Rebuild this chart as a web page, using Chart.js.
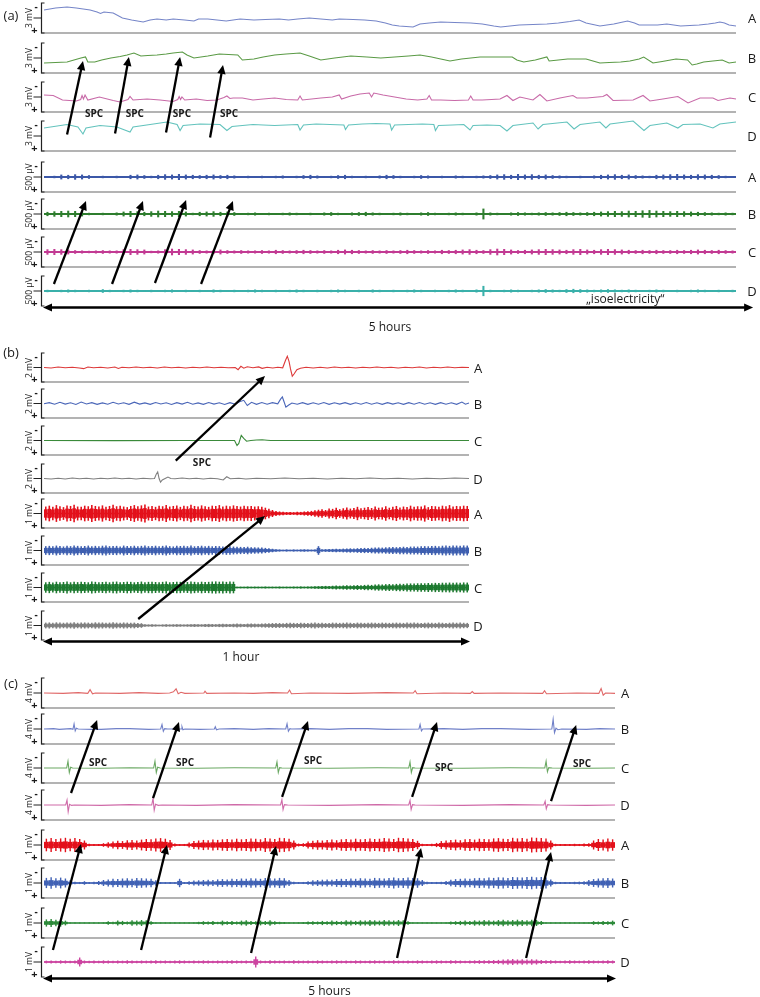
<!DOCTYPE html>
<html>
<head>
<meta charset="utf-8">
<script src="https://cdn.jsdelivr.net/npm/chart.js@4.4.1/dist/chart.umd.min.js"></script>
<style>
  html, body { margin: 0; padding: 0; background: #fff; }
  body { position: relative; width: 760px; height: 997px; overflow: hidden; font-family: "Open Sans", "Liberation Sans", sans-serif; color: #1a1a1a; }
  canvas.row { position: absolute; left: 0; }
  #overlay { position: absolute; left: 0; top: 0; pointer-events: none; z-index: 5; }
  .t { position: absolute; white-space: nowrap; line-height: 1; transform: translate(-50%, -50%); z-index: 6; }
</style>
</head>
<body>
<canvas id="overlay" width="760" height="997"></canvas>
<script>
// ---------- (a) slow traces, [minutes, mV] ----------
const aSlowA = [[0,-0.8],[5,-1.0],[10,-1.1],[14,-1.0],[17,-0.9],[20,-0.8],[23,-0.6],[24.5,-0.45],[26,-0.6],[30,-0.5],[34,0.0],[38,0.2],[43,0.4],[46,0.2],[49,0.1],[53,0.2],[56,0.1],[61,0.2],[65,0.3],[67,0.1],[71,0.1],[75,0.2],[79,0.3],[82,0.2],[85,0.1],[91,0.2],[96,0.15],[102,0.1],[106,0.2],[110,0.1],[115,0.0],[120,0.1],[125,0.2],[128,0.1],[134,0.15],[139,0.2],[144,0.3],[148,0.5],[151,0.7],[154,0.8],[157,0.85],[160,0.9],[163,0.6],[167,0.5],[172,0.4],[178,0.45],[185,0.5],[190,0.6],[195,0.8],[198,0.9],[202,0.8],[206,0.7],[212,0.65],[218,0.6],[223,0.5],[228,0.35],[232,0.2],[235,0.5],[238,0.65],[241,0.8],[244,0.7],[247,0.6],[250,0.45],[253,0.3],[256,0.5],[258,0.7],[262,0.7],[266,0.7],[270,0.6],[273,0.7],[276,0.8],[280,0.75],[284,0.7],[288,0.6],[291,0.5],[293,0.4],[295,0.5],[297,0.7],[300,0.8]];
const aSlowB = [[0,0.5],[5,0.45],[10,0.4],[13,0.2],[16,0.0],[18,-0.1],[19,0.4],[22,0.4],[25,0.2],[29,0.0],[33,-0.15],[36,-0.3],[39,-0.5],[42,-0.2],[45,-0.25],[49,-0.3],[53,-0.4],[56,-0.5],[60,-0.6],[62,-0.3],[65,0.0],[68,-0.1],[71,-0.2],[76,-0.4],[80,-0.35],[84,-0.3],[86,0.2],[91,0.1],[95,-0.1],[100,-0.3],[105,-0.4],[111,-0.5],[115,-0.2],[120,0.2],[126,0.0],[133,-0.2],[140,-0.1],[146,0.0],[152,-0.1],[158,-0.2],[163,-0.3],[168,-0.1],[172,0.1],[176,0.3],[181,0.1],[189,-0.1],[198,-0.1],[203,-0.1],[205,0.2],[208,0.4],[213,0.2],[218,-0.1],[219,0.3],[223,0.2],[227,0.1],[235,0.1],[238,0.3],[241,0.5],[245,0.45],[250,0.4],[254,0.3],[258,0.1],[260,-0.1],[264,0.5],[268,0.35],[274,0.1],[279,0.2],[281,0.7],[283,0.6],[286,0.4],[290,0.3],[294,0.2],[297,0.5],[300,0.4]];
const aSlowC = [[0,-0.2],[4,-0.15],[8,0.3],[14,0.4],[15.9,0.25],[16.5,-0.15],[17.1,0.2],[17.8,-0.2],[19,0.3],[24,0.0],[30,0.35],[33,0.5],[36.4,0.25],[37.3,-0.05],[38.6,0.3],[44.7,0.2],[50.3,0.3],[56,0.45],[58,0.25],[58.6,-0.05],[59.2,0.25],[59.8,0.0],[61,0.3],[66,0.2],[70.7,0.35],[75,0.3],[78,0.05],[79.3,-0.1],[80.6,0.15],[82,0.1],[86,0.1],[90.6,0.3],[95,0.2],[100,0.1],[105,0.25],[110,0.3],[111,-0.1],[112,0.3],[116,0.2],[120,0.1],[125,0.0],[128,-0.2],[129,0.2],[133,-0.1],[137,-0.3],[141,-0.4],[142,0.0],[143,-0.4],[147,-0.2],[152,0.0],[157,0.2],[162,0.3],[166,0.2],[167,-0.15],[168,0.3],[172,0.3],[178,0.35],[184,0.3],[185,-0.1],[186,0.3],[190,0.3],[194,0.25],[197.7,0.2],[200.7,-0.15],[203.3,0.35],[206.3,0.0],[212,0.3],[215,-0.25],[218,0.4],[223.7,0.1],[229.3,-0.15],[231,0.1],[235.4,0.1],[242.3,-0.05],[244,-0.25],[246.7,0.35],[255.4,0.3],[259.7,-0.15],[262.7,0.4],[268.3,0.2],[274.8,-0.05],[279.2,0.6],[284.4,0.1],[290,0.1],[292.2,0.35],[297.4,0.1],[300,0.2]];
const aSlowD = [[0,-0.8],[10,-1.15],[14.7,-0.9],[16.9,-0.2],[18.2,-0.8],[24.3,-1.05],[31.6,-0.9],[37.3,-0.4],[38.6,-0.9],[46,-1.15],[53.3,-1.4],[57.7,-1.15],[59,-0.55],[60.3,-1.05],[67.6,-1.2],[76.3,-1.15],[79.3,-0.55],[81.5,-0.95],[90.6,-1.15],[95,-1.1],[100,-1.05],[105,-1.1],[110,-1.15],[111,-0.6],[112.5,-1.1],[118,-1.2],[124,-1.15],[130,-1.1],[130.7,-0.65],[132,-1.1],[138,-1.2],[144,-1.25],[150,-1.2],[150.7,-0.6],[152,-1.1],[158,-1.15],[164,-1.2],[169,-1.15],[169.7,-0.55],[171,-1.05],[177,-1.1],[182,-1.15],[184.7,-0.6],[186,-1.05],[192,-1.1],[197.7,-1.05],[200.7,-0.5],[203.3,-1.05],[212,-1.3],[214.2,-0.7],[216.3,-1.15],[226.7,-1.4],[229.8,-0.7],[232.4,-1.15],[241,-1.4],[243.6,-0.8],[245.4,-1.2],[255.4,-1.5],[260.1,-0.55],[262.7,-1.05],[270,-1.3],[274.8,-0.8],[277,-1.15],[284.4,-1.2],[290,-0.8],[293,-1.2],[300,-1.4]];

// ---------- (a) fast traces: amplitude envelope per 3-minute bin, µV ----------
const aFastA = [15,20, 40,35,45,40,30, 15,20,15,20,15, 35,40,30, 20, 35,45,40,50,40,35,30, 35,40,30,35,25, 15,20,15,20,15,20,25,15, 20,30,35,25,15,20,30,35,20,15, 20,15,25,35,30,20,15,20,30,25, 15,20,15,25,20,15,20,25,30, 40,45,35,50,40,45,35,40,30,25, 20,15,20,15,25, 35,40,45,35,40,30,25, 20, 35,40,45,50,40,35,45,40,35,30, 20,15];
const aFastB = [35,45,50,55,50,40, 20,15,20,15,25, 40,50,45, 35,45,55,50,45,50,40, 20, 35,40,45,35,40,30, 15,20,25,15,20,15,20,25,20,15,20,15, 25,30,20,15,25,30,35,25,20,15,20,25, 20,15,25,30,20,15,20,25,20,15,25, 90, 25,20,15,25,30,25,20,25,30, 25,30,35,30,25,30,35, 40,45,50,45,55,50,60,65,55,50,45,50,45,40,35, 30,25,20,25,20];
const aFastC = [45,50,45,40,30,25,20,25,30,25, 25,45,50,45,40,20,25,45,55,50, 45,40,30,25,35,40,30,25,30,25, 25,30,25,35,30,25,30,35,30,25, 30,25,35,40,35,30,25,30,25,30, 25,30,35,30,25,30,25,35,30,35, 40,45,35,30,45,55,50,40,30,35, 40,45,50,45,40,35,45,50,40,35, 45,50,45,40,35,30,35,30,35,30, 30,35,30,35,40,35,30,35,30,25];
const aFastD = [20,15,20,25,20,15,20,15,30,20, 15,20,25,20,15,20,15,20,25,15, 20,15,20,15,25,20,15,20,15,20, 25,20,15,20,15,20,25,20,15,20, 15,20,25,20,15,20,15,25,20,15, 20,15,20,25,20,15,20,15,20,25, 20,15,25,85,20,15,20,25,20,15, 20,25,30,25,20,30,35,30,25,20, 25,30,25,20,25,20,15,20,25,20, 15,20,15,20,25,20,15,20,15,20];

// ---------- (b) slow traces, [minutes, mV] ----------
const bSlowA = [[0,0],[1,0.03],[2,-0.03],[3,0.02],[4,-0.02],[5,0.03],[5.6,0.08],[6.2,-0.03],[7,0.02],[8,-0.02],[9,0.03],[10,-0.03],[10.5,0.07],[11,-0.02],[12,0.02],[13,-0.03],[14,0.02],[15,-0.02],[16,0.03],[17,-0.03],[18,0.02],[19,-0.02],[20,0.03],[21,-0.02],[22,0.02],[23,-0.03],[24,0.02],[25,-0.02],[26,0.02],[27,0.0],[27.4,0.15],[27.8,-0.08],[28.2,0.05],[28.7,-0.05],[29.5,0.02],[30.3,-0.04],[30.8,0.06],[31.5,-0.02],[32.3,0.03],[33,-0.02],[33.7,0.02],[34.1,-0.5],[34.35,-0.78],[34.6,-0.4],[34.8,0.1],[35.05,0.6],[35.3,0.45],[35.7,0.15],[36.2,0.05],[37,-0.02],[38,0.03],[39,-0.02],[40,0.03],[41,-0.03],[42,0.02],[43,-0.02],[44,0.03],[45,-0.02],[46,0.02],[47,-0.03],[48,0.02],[49,-0.02],[50,0.03],[51,-0.02],[52,0.02],[53,-0.03],[54,0.03],[55,-0.02],[56,0.02],[57,-0.03],[58,0.02],[59,-0.02],[60,0]];
const bSlowB = [[0,0.02],[0.75,-0.06],[1.5,0.05],[2.25,-0.08],[3,0.04],[3.75,-0.05],[4.5,0.07],[5.25,-0.1],[6,0.03],[6.75,-0.06],[7.5,0.06],[8.25,-0.04],[9,0.05],[9.75,-0.08],[10.5,0.03],[11.25,-0.05],[12,0.06],[12.75,-0.09],[13.5,0.04],[14.25,-0.04],[15,0.06],[15.75,-0.07],[16.5,0.03],[17.25,-0.05],[18,0.07],[18.75,-0.06],[19.5,0.04],[20.25,-0.08],[21,0.05],[21.75,-0.04],[22.5,0.06],[23.25,-0.07],[24,0.04],[24.75,-0.05],[25.5,0.07],[26.25,-0.06],[27,0.05],[27.6,-0.12],[28.2,-0.22],[28.7,0.14],[29.3,-0.08],[30,0.06],[30.75,-0.07],[31.5,0.05],[32.25,-0.06],[33,0.02],[33.4,-0.3],[33.65,-0.45],[33.9,-0.1],[34.15,0.25],[34.5,0.12],[35,-0.03],[35.75,0.05],[36.5,-0.06],[37.25,0.06],[38,-0.05],[38.75,0.05],[39.5,-0.07],[40.25,0.06],[41,-0.05],[41.75,0.04],[42.5,-0.06],[43.25,0.06],[44,-0.05],[44.75,0.05],[45.5,-0.07],[46.25,0.05],[47,-0.05],[47.75,0.06],[48.5,-0.06],[49.25,0.04],[50,-0.05],[50.75,0.06],[51.5,-0.06],[52.25,0.05],[53,-0.07],[53.75,0.05],[54.5,-0.05],[55.25,0.06],[56,-0.06],[56.75,0.05],[57.5,-0.05],[58.25,0.06],[59,-0.1],[59.5,0.05],[60,-0.03]];
const bSlowC = [[0,0],[10,0.01],[20,0],[26.9,0],[27.25,0.35],[27.5,0.2],[27.85,-0.35],[28.2,-0.15],[28.6,0.05],[29.2,0],[30,-0.03],[30.8,-0.05],[31.5,-0.02],[32,0],[45,0],[60,0]];
const bSlowD = [[0,0],[1,0.03],[2,-0.02],[3,0.03],[4,-0.03],[5,0.02],[6,-0.02],[7,0.03],[8,-0.02],[9,0.02],[10,-0.03],[11,0.02],[12,-0.02],[13,0.03],[14,-0.02],[15,0.02],[15.6,0],[15.85,-0.3],[16.05,-0.45],[16.25,0.0],[16.45,0.25],[16.7,0.1],[17.1,0.0],[17.5,-0.1],[17.9,0.0],[18.5,0.02],[19.5,-0.03],[20.5,0.02],[21.5,-0.02],[22.5,0.03],[23.5,-0.02],[24.5,0.02],[25.3,0.1],[25.8,-0.12],[26.3,0.02],[27.5,-0.02],[28.5,0.03],[30,-0.02],[32,0.02],[34,-0.03],[36,0.02],[38,-0.02],[40,0.03],[42,-0.02],[44,0.02],[46,-0.03],[48,0.02],[50,-0.02],[52,0.03],[54,-0.02],[56,0.02],[58,-0.03],[60,0]];

// ---------- (b) fast traces: amplitude envelope per 0.5-minute bin, µV ----------
const bFastA = [240,270,230,290,250,220,280,260,300,240, 230,270,250,290,260,240,280,230,260,300, 250,270,240,220,260,290,250,280,310,240, 260,230,270,250,290,240,260,280,230,270, 250,300,260,240,280,250,230,270,260,290, 240,270,250,280,260,240,270,250,260,240, 250,230, 200,160,120,90,70,60, 50,55,45,60,55,70,80,90,110, 130,150,120,170,160,200,150,180,210,170, 190,230,180,200,220,190,240,200,210,250, 200,230,260,210,240,220,270,230,250,240, 280,220,260,250,230,270,250,290,240,260, 250,270,260];
const bFastB = [150,160,145,170,155,140,165,150,175,160, 145,155,170,150,160,145,165,175,150,155, 160,140,170,155,150,165,145,160,170,150, 155,165,145,160,175,150,140,165,155,160, 150,170,145,155,165,150,160,145,155,150, 140,150,145,135, 130,125,120,130,115,110,105,100,90,80,60,45, 35,30,35,30,35,30,35,40,35,30,35, 150, 40,45,50,55,60,55,65,70,75,70, 80,85,90,85,95,100,105,100,110,115, 120,115,125,130,125,135,140,135,145,150, 145,155,160,150,165,170,160,175,170,165, 175,170];
const bFastC = [180,195,175,200,185,190,205,180,195,185, 200,190,180,205,195,185,190,200,180,195, 205,185,190,200,195,180,190,205,185,195, 200,190,185,195,205,180,190,200,195,185, 190,205,195,185,200,190,195,205,210,200, 205,195,210,200, 30,28,30,32,28,30,28,30,32,30, 28,30,32,30,28,30,32,30,35,30, 32,35,40, 45,50,55,50,60,65,60,70,75,70, 80,85,80,90,95,90,100,110,105,115, 120,115,125,130,125,135,140,135,145,150, 145,155,150,160,155,165,160,170,165,170, 165,175,170];
const bFastD = [100,105,95,110,100,95,105,100,110,95, 100,105,100,95,110,100,105,95,100,110, 100,95,105,100,95,100,90,80, 40,35,40,35,30,35,40,35,40,45, 40,35,40,45,50,45,40,50,55,50, 45,55,60,55,50,60,65,60,55,65, 70,65,60,70,75, 80,85,90,85,80,90,95,90,85,95, 90,85,95,100,90,95,85,90,100,95, 90,95,100,95,90,100,95,90,95,100, 95,90,100,95,90,95,100,95,90,100, 95,100,95,90,95,100,95,90,100,95, 90,95,100,95,100,95,90];

// ---------- (c) slow traces, [minutes, mV] ----------
const cSlowA = [[0,0],[10,0.05],[18,-0.05],[23,0.05],[24.2,-0.45],[25.5,0.1],[27,0],[40,0.05],[50,-0.05],[60,0.05],[66,0],[68,-0.15],[69.4,-0.55],[70.5,0.1],[72,-0.1],[74,0.05],[84,0],[84.6,-0.25],[85.5,0.05],[100,0],[110,0.05],[120,-0.05],[128,0],[129,-0.4],[130,0.1],[140,0],[160,0.05],[180,-0.05],[194,0],[195,-0.3],[196,0.1],[210,0],[224,0.05],[225,-0.2],[226,0.05],[240,0],[262,0.05],[263,-0.3],[264,0.1],[280,0],[291.5,0.05],[292.7,-0.6],[293.8,0.3],[295,0],[300,0.05]];
const cSlowB = [[0,0],[5,-0.05],[8,0.05],[14,-0.05],[15.2,0.05],[15.8,-0.67],[16.4,0.25],[17,-0.1],[18,0],[25,0.05],[30,0.05],[38,-0.05],[45,-0.05],[55,0.05],[61.3,0],[62,-0.6],[62.7,0.3],[63.4,-0.05],[65,0],[72,0],[72.5,-0.3],[73,0.1],[74,0],[82,0.05],[89.5,0],[90,-0.3],[90.6,0.1],[92,0],[100,-0.05],[110,0.05],[118,-0.05],[127,0],[127.7,-0.7],[128.4,0.3],[129.2,-0.05],[130,0],[140,-0.05],[150,0.05],[160,-0.05],[170,-0.05],[180,0.05],[197,0],[197.6,-0.6],[198.3,0.25],[199,0],[210,-0.05],[220,0.05],[230,-0.05],[240,-0.05],[255,0.05],[266.8,0],[267.5,-1.3],[268.2,0.5],[269,-0.1],[270,0.1],[272,0],[285,0.05],[292,-0.05],[300,0]];
const cSlowC = [[0,0],[11.9,0],[12.6,-0.9],[13.3,0.6],[14,-0.1],[15,0],[30,0.03],[45,-0.03],[57.6,0],[58.3,-0.9],[59,0.6],[59.7,-0.1],[61,0],[80,0.03],[100,-0.03],[121.7,0],[122.4,-0.8],[123.1,0.6],[123.8,-0.05],[125,0],[150,0.03],[175,-0.03],[191.6,0],[192.3,-0.8],[193,0.6],[193.7,-0.05],[195,0],[220,0.03],[245,-0.03],[263.1,0],[263.8,-0.9],[264.5,0.5],[265.2,-0.05],[267,0],[285,0.03],[300,0]];
const cSlowD = [[0,0],[11.4,0],[12.1,-0.67],[12.7,0.9],[13.4,-0.1],[14.5,0.05],[16,0],[30,0.05],[45,-0.05],[56.6,0],[57.3,-0.9],[57.9,0.7],[58.6,-0.1],[60,0.05],[62,0],[80,0.05],[100,-0.05],[124.3,0],[125,-0.7],[125.6,0.6],[126.3,-0.05],[128,0],[150,0.05],[175,-0.05],[191.6,0],[192.3,-0.6],[192.9,0.6],[193.6,-0.05],[195,0],[220,0.05],[245,-0.05],[262.6,0],[263.3,-0.5],[263.9,0.5],[264.6,-0.05],[266,0],[285,0.05],[300,0]];

// ---------- (c) fast traces: amplitude envelope per 2.5-minute bin, µV ----------
const cFastA = [210,230,200,220,240,210,230,200,150, 40,30,35,60,90, 120,140,130,160,170,150,180,200,190,220,230,210,170, 50,30,35,80, 130,150,170,160,180,170,190,200,180,210,190,200,220,210,190,230,220,200,240,230,210,150, 50,60, 120,140,160,150,170,180,160,190,200,180,210,190,200,220,200,210,230,220,200,240,230,220,200,140, 40,30,40,70, 130,150,170,180,160,190,200,180,210,200,190,220,230,210,200,240,220,230,210,250,240,230,220,150, 40,30,35,30,40,35,50,60, 150,200,180,220,190];
const cFastB = [170,190,160,180,150,90, 40,35,60,30,40,70, 100,120,140,130,150,160,140,170,160,150,140,90, 30,25,30,25,140,30, 60,80,90,100,110,100,120,130,120,140,130,150,140,160,150,140,170,160,150,170,160,100, 40,30,35,60, 90,100,110,120,110,130,140,130,150,140,160,150,140,170,160,150,170,180,160,170,180,170,160,100, 40,30,35,40,70, 110,130,140,150,140,160,170,160,180,170,190,180,170,200,190,180,200,210,190,200,180,120, 40,30,35,30,40,45,60, 100,130,150,160,170,150];
const cFastC = [120,130,110,120,80, 15,15,15,15,15,15,15,20, 60,40,80,70,50,90,80,100,90,60, 15,15,15,15,15,15,15,15,20, 40,60,50,70,40,80,60,70,50,80,90,70,60,80,70,90,60,40,30,20,15, 20,30,50,60,50,70,60,80,70,60,90,80,70,90,80,100,90,80,100,90,80,100,90,60, 15,15,15,15,15,15,15,20, 50,60,70,80,70,90,80,100,90,80,100,110,90,100,110,100,90,110,100,70, 15,15,15,15,15,15,15,15,20,20, 60,50,70,60,80];
const cFastD = [45,50,45,55,50,45,50,150,50,45, 50,45,55,50,45,50,45,55,50,45, 50,45,50,55,45,50,45,50,55,50, 45,50,45,55,50,45,50,45,50,55, 50,45,50,45,180,50,45,55,50,45, 50,45,55,50,45,50,45,55,50,45, 50,55,45,50,45,55,50,45,50,55, 45,50,45,55,50,45,50,45,55,50, 45,50,55,50,45,60,55,50,45,50, 55,60,55,60,65,70,80,90,100,85, 95,80,90,85,70,60,55,50,45,50, 55,50,45,50,55,50,45,50,55,50];

// ---------- annotations: [fromRow, t, value, toRow, t, value] ----------
const arrowsA = [[3,10.0,-0.15, 1,16.9,0.3],[3,30.8,-0.25, 1,36.8,-0.1],[3,52.9,-0.35, 1,59.0,-0.1],[3,72.0,0.15, 1,77.6,0.7],
                 [7,4.3,-117, 5,18.2,-217],[7,29.5,-117, 5,42.9,-217],[7,48.1,-133, 5,61.6,-233],[7,68.1,-117, 5,81.9,-217]];
const arrowsB = [[2,18.6,1.39, 0,31.2,0.59],[7,13.3,-224, 4,31.2,86]];
const arrowsC = [[3,14.2,-1.6, 1,27.9,-1.2],[3,57.3,-0.93, 1,70.9,-0.93],[3,125.1,-1.07, 1,138.7,-1.07],[3,193.4,-1.07, 1,206.5,-0.93],[3,266.4,-0.53, 1,279.6,-0.53],
                 [7,4.7,-400, 4,19.4,-33],[7,51.0,-400, 4,64.6,0],[7,108.8,-300, 4,121.9,33],[7,185.5,-133, 4,198.1,100],[7,253.3,-133, 4,266.4,233]];
// SPC labels: [row, t, value]
const spcA = [[2,21.7,1.57],[2,39.4,1.57],[2,59.8,1.57],[2,80.2,1.57]];
const spcB = [[2,22.3,1.48]];
const spcC = [[2,28.4,-0.8],[2,74.1,-0.8],[2,141.4,-1.07],[2,210.2,-0.13],[2,282.7,-0.67]];

const panels = [
  { label: '(a)', labelY: 15, tMax: 300, right: 736, letterX: 752, h: 30, spikePct: 0.3, corePct: 0, coreW: 2,
    tops: [3, 43, 82, 121, 162, 199, 237, 276],
    rows: [
      { data: aSlowA, span: 3, unit: '3 mV', letter: 'A', color: '#7585c8' },
      { data: aSlowB, span: 3, unit: '3 mV', letter: 'B', color: '#5a9a45' },
      { data: aSlowC, span: 3, unit: '3 mV', letter: 'C', color: '#c86aa8' },
      { data: aSlowD, span: 3, unit: '3 mV', letter: 'D', color: '#63c3bd' },
      { data: aFastA, env: true, span: 500, unit: '500 µV', letter: 'A', color: '#3c58a8' },
      { data: aFastB, env: true, span: 500, unit: '500 µV', letter: 'B', color: '#2e7d2e' },
      { data: aFastC, env: true, span: 500, unit: '500 µV', letter: 'C', color: '#c23a93' },
      { data: aFastD, env: true, span: 500, unit: '500 µV', letter: 'D', color: '#3ab0aa' }
    ],
    arrows: arrowsA, spc: spcA, timeText: '5 hours', timeT: 150, timeDy: 19, axisEnd: 307,
    notes: [['„isoelectricity“', 7, 252, 133]] },
  { label: '(b)', labelY: 352, tMax: 60, right: 469, letterX: 478, h: 29, spikePct: 0.45, corePct: 0.6, coreW: 1.5,
    tops: [353, 389, 426, 464, 499, 536, 573, 611],
    rows: [
      { data: bSlowA, span: 2, unit: '2 mV', letter: 'A', color: '#dd3a3a' },
      { data: bSlowB, span: 2, unit: '2 mV', letter: 'B', color: '#4a66b8' },
      { data: bSlowC, span: 2, unit: '2 mV', letter: 'C', color: '#3a8a3a' },
      { data: bSlowD, span: 2, unit: '2 mV', letter: 'D', color: '#7f7f7f' },
      { data: bFastA, env: true, span: 1000, unit: '1 mV', letter: 'A', color: '#e3111b' },
      { data: bFastB, env: true, span: 1000, unit: '1 mV', letter: 'B', color: '#3e5fb0' },
      { data: bFastC, env: true, span: 1000, unit: '1 mV', letter: 'C', color: '#1e7a30' },
      { data: bFastD, env: true, span: 1000, unit: '1 mV', letter: 'D', color: '#808080' }
    ],
    arrows: arrowsB, spc: spcB, timeText: '1 hour', timeT: 27.8, timeDy: 15, axisEnd: 60, notes: [] },
  { label: '(c)', labelY: 683, tMax: 300, right: 615, letterX: 625, h: 30, spikePct: 0.3, corePct: 0.5, coreW: 1.5,
    tops: [678, 714, 753, 790, 830, 868, 908, 947],
    rows: [
      { data: cSlowA, span: 4, unit: '4 mV', letter: 'A', color: '#e06868' },
      { data: cSlowB, span: 4, unit: '4 mV', letter: 'B', color: '#7080c8' },
      { data: cSlowC, span: 4, unit: '4 mV', letter: 'C', color: '#6aa862' },
      { data: cSlowD, span: 4, unit: '4 mV', letter: 'D', color: '#cf6aa8' },
      { data: cFastA, env: true, span: 1000, unit: '1 mV', letter: 'A', color: '#e3111b' },
      { data: cFastB, env: true, span: 1000, unit: '1 mV', letter: 'B', color: '#4162b5' },
      { data: cFastC, env: true, span: 1000, unit: '1 mV', letter: 'C', color: '#2d8a3a' },
      { data: cFastD, env: true, span: 1000, unit: '1 mV', letter: 'D', color: '#cc44a0' }
    ],
    arrows: arrowsC, spc: spcC, timeText: '5 hours', timeT: 150, timeDy: 12, axisEnd: 300, notes: [] }
];

const PAD = 8;

// bracket "[" with the zero tick on the left, and the grey base line under each row
const rowFrame = {
  id: 'rowFrame',
  beforeDatasetsDraw(chart, args, o) {
    if (!o.base) return;
    const { ctx, chartArea: a } = chart;
    ctx.save();
    ctx.strokeStyle = '#9a9a9a';
    ctx.lineWidth = 1.4;
    ctx.beginPath();
    ctx.moveTo(a.left - 3, a.bottom);
    ctx.lineTo(a.right, a.bottom);
    ctx.stroke();
    ctx.restore();
  },
  afterDatasetsDraw(chart) {
    const { ctx, chartArea: a } = chart;
    const x = a.left - 2.5;
    const mid = chart.scales.y.getPixelForValue(0);
    ctx.save();
    ctx.strokeStyle = '#222';
    ctx.lineWidth = 1.2;
    ctx.beginPath();
    ctx.moveTo(x + 3, a.top); ctx.lineTo(x, a.top); ctx.lineTo(x, a.bottom); ctx.lineTo(x + 3, a.bottom);
    ctx.moveTo(x - 8, mid); ctx.lineTo(x, mid);
    ctx.stroke();
    ctx.restore();
  }
};

function text(str, x, y, css) {
  const d = document.createElement('div');
  d.className = 't';
  d.textContent = str;
  d.style.left = x + 'px';
  d.style.top = y + 'px';
  Object.assign(d.style, css || {});
  document.body.appendChild(d);
  return d;
}

function makeRow(p, r, i) {
  const top = p.tops[i];
  const cv = document.createElement('canvas');
  cv.className = 'row';
  cv.width = 760;
  cv.height = p.h + 2 * PAD;
  cv.style.top = (top - PAD) + 'px';
  document.body.appendChild(cv);

  let datasets;
  if (r.env) {
    // min/max envelope of each bin: thin full-height spikes plus a denser inner band
    const dt = p.tMax / r.data.length;
    const bins = r.data.map((a, k) => (k + 0.5) * dt);
    datasets = [
      { type: 'bar', grouped: false, data: r.data.map((a, k) => ({ x: bins[k], y: [-a, a] })),
        backgroundColor: r.color, borderWidth: 0, barPercentage: p.spikePct, categoryPercentage: 1 },
      { type: 'line', data: [{ x: 0, y: 0 }, { x: p.tMax, y: 0 }],
        borderColor: r.color, borderWidth: p.coreW, pointRadius: 0 }
    ];
    if (p.corePct > 0) {
      datasets.push({ type: 'bar', grouped: false, data: r.data.map((a, k) => ({ x: bins[k], y: [-a * p.corePct, a * p.corePct] })),
        backgroundColor: r.color, borderWidth: 0, barPercentage: 1.02, categoryPercentage: 1 });
    }
  } else {
    datasets = [{ type: 'line', data: r.data.map(d => ({ x: d[0], y: d[1] })),
      borderColor: r.color, borderWidth: 1.1, pointRadius: 0, tension: 0, clip: false }];
  }

  const chart = new Chart(cv, {
    type: r.env ? 'bar' : 'line',
    data: { datasets },
    options: {
      responsive: false,
      animation: false,
      events: [],
      layout: { padding: { left: 44, right: 760 - p.right, top: PAD, bottom: PAD } },
      scales: {
        x: { type: 'linear', min: 0, max: p.tMax, offset: false, display: false },
        y: { type: 'linear', min: -r.span / 2, max: r.span / 2, reverse: true, display: false }
      },
      plugins: { legend: { display: false }, tooltip: { enabled: false }, rowFrame: { base: i < 7 } }
    },
    plugins: [rowFrame]
  });

  const a = chart.chartArea;
  const mid = (a.top + a.bottom) / 2 + top - PAD;
  text(r.unit, 28.5, mid, { fontSize: '8.5px', transform: 'translate(-50%,-50%) rotate(-90deg)' });
  text('-', 36, a.top + top - PAD + 3, { fontSize: '10px', fontWeight: 'bold' });
  text('+', 34.5, a.bottom + top - PAD - 4, { fontSize: '11px', fontWeight: 'bold' });
  text(r.letter, p.letterX, mid, { fontSize: '13px' });
  return { chart, top: top - PAD };
}

const ov = document.getElementById('overlay').getContext('2d');

function arrowHead(ctx, x1, y1, x2, y2, len, half) {
  const ang = Math.atan2(y2 - y1, x2 - x1);
  ctx.beginPath();
  ctx.moveTo(x2, y2);
  ctx.lineTo(x2 - len * Math.cos(ang) + half * Math.sin(ang), y2 - len * Math.sin(ang) - half * Math.cos(ang));
  ctx.lineTo(x2 - len * Math.cos(ang) - half * Math.sin(ang), y2 - len * Math.sin(ang) + half * Math.cos(ang));
  ctx.closePath();
  ctx.fill();
}

function arrow(ctx, x1, y1, x2, y2, lw, len, half) {
  const ang = Math.atan2(y2 - y1, x2 - x1);
  ctx.lineWidth = lw;
  ctx.beginPath();
  ctx.moveTo(x1, y1);
  ctx.lineTo(x2 - len * 0.8 * Math.cos(ang), y2 - len * 0.8 * Math.sin(ang));
  ctx.stroke();
  arrowHead(ctx, x1, y1, x2, y2, len, half);
}

ov.strokeStyle = '#000';
ov.fillStyle = '#000';

panels.forEach(p => {
  const rows = p.rows.map((r, i) => makeRow(p, r, i));
  const at = (ri, t, v) => {
    const c = rows[ri].chart;
    return [c.scales.x.getPixelForValue(t), c.scales.y.getPixelForValue(v) + rows[ri].top];
  };

  text(p.label, 11, p.labelY, { fontSize: '13px' });

  p.arrows.forEach(a => {
    const [x1, y1] = at(a[0], a[1], a[2]);
    const [x2, y2] = at(a[3], a[4], a[5]);
    arrow(ov, x1, y1, x2, y2, 2.3, 9, 4.2);
  });
  p.spc.forEach(s => {
    const [x, y] = at(s[0], s[1], s[2]);
    text('SPC', x, y, { fontSize: '10px', fontWeight: 'bold' });
  });
  p.notes.forEach(n => {
    const [x, y] = at(n[1], n[2], n[3]);
    text(n[0], x, y, { fontSize: '12px' });
  });

  // time axis as a double-headed arrow under the last row
  const last = rows[7];
  const xs = last.chart.scales.x;
  const yAx = last.chart.chartArea.bottom + last.top + 1.5;
  const xl = xs.getPixelForValue(0) - 1;
  const xr = xs.getPixelForValue(p.axisEnd) + 1;
  ov.lineWidth = 2.5;
  ov.beginPath();
  ov.moveTo(xl + 6, yAx);
  ov.lineTo(xr - 6, yAx);
  ov.stroke();
  arrowHead(ov, xr, yAx, xl, yAx, 9, 4);
  arrowHead(ov, xl, yAx, xr, yAx, 9, 4);
  text(p.timeText, xs.getPixelForValue(p.timeT), yAx + p.timeDy, { fontSize: '12px' });
});
</script>
</body>
</html>
